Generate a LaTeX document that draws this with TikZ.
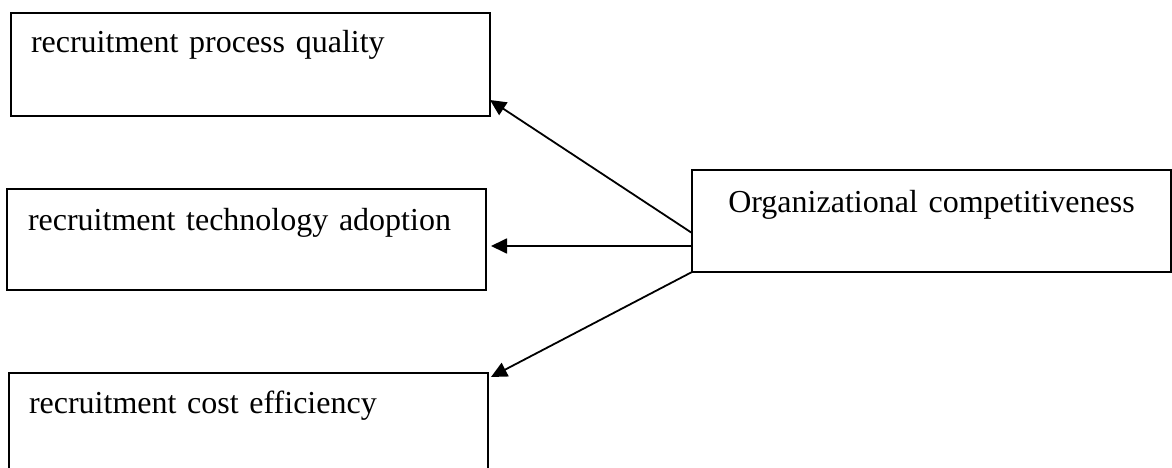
\documentclass[tikz,border=0pt]{standalone}
\usepackage{fontspec}
\setmainfont{Liberation Serif}
\usetikzlibrary{arrows.meta}
\newcommand\myboxfont{\fontsize{32}{37}\selectfont}
\begin{document}
\begin{tikzpicture}[x=1pt,y=-1pt,
  box/.style={draw, line width=2pt, rectangle, anchor=north west, outer sep=0pt,
    inner ysep=0pt, font=\myboxfont},
  conn/.style={line width=1.8pt, -{Triangle[length=16pt,width=15pt]}}]
\clip (0,0) rectangle (1172,468);
\fill[white] (0,0) rectangle (1172,468);
\node[box, inner xsep=20pt, text width=439pt, align=left, text height=40pt, text depth=63pt] (b1) at (11,13) {recruitment process quality};
\node[box, inner xsep=21pt, text width=437pt, align=left, text height=41pt, text depth=60pt] (b2) at (7,189) {recruitment technology adoption};
\node[box, inner xsep=20pt, text width=439pt, align=left, text height=40pt, text depth=80pt] (b3) at (9,373) {recruitment cost efficiency};
\node[box, inner xsep=10pt, text width=459pt, align=center, text height=42pt, text depth=60pt] (b4) at (692,170) {Organizational competitiveness};
\draw[conn] ([yshift=-63pt]b4.north west) -- ([yshift=16pt]b1.south east);
\draw[conn] ([yshift=-76pt]b4.north west) -- ([xshift=5pt,yshift=-57pt]b2.north east);
\draw[conn] (b4.south west) -- ([xshift=3pt,yshift=-4pt]b3.north east);
\end{tikzpicture}
\end{document}
